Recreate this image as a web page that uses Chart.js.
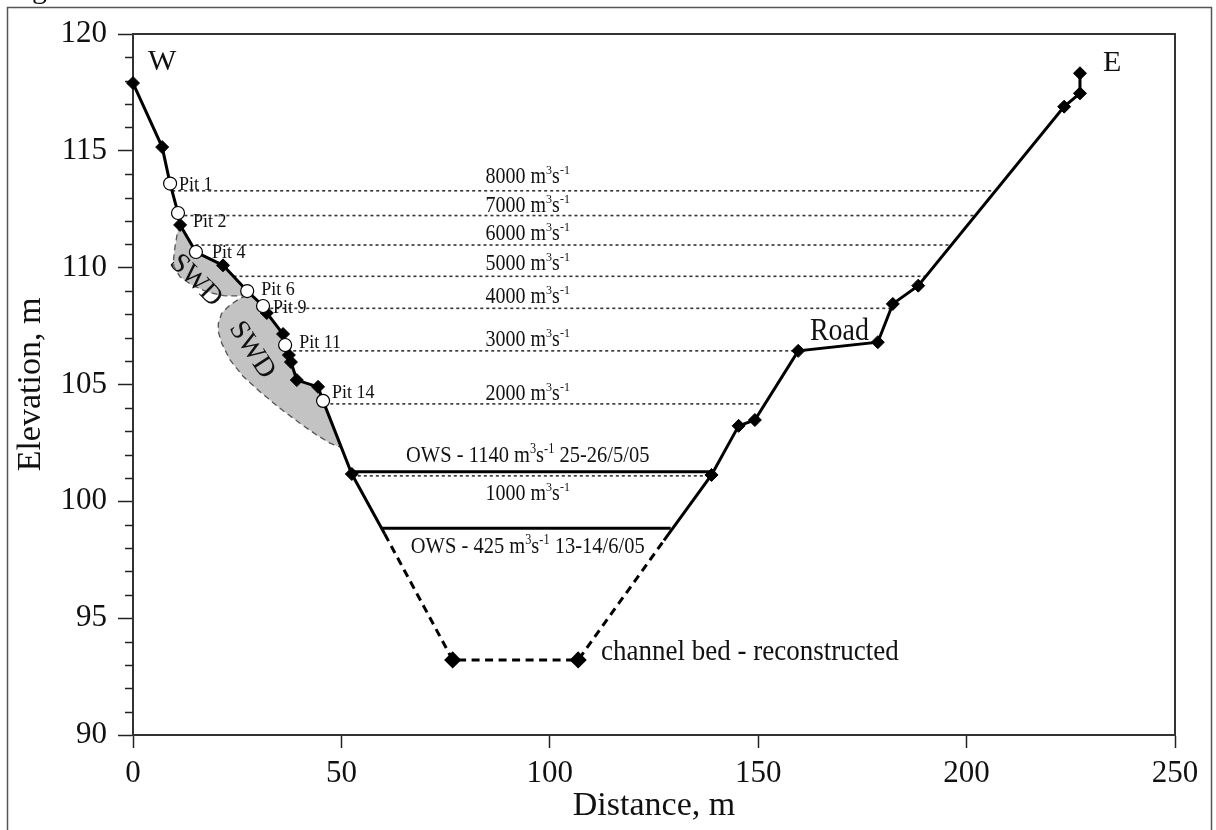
<!DOCTYPE html>
<html><head><meta charset="utf-8">
<script src="https://cdn.jsdelivr.net/npm/chart.js@4.4.1/dist/chart.umd.min.js"></script>
<style>html,body{margin:0;padding:0;background:#fff}#wrap{position:relative;width:1216px;height:830px}</style>
</head><body><div id="wrap"><canvas id="c" width="1216" height="830"></canvas></div>
<script>
// ---------------- data ----------------
const flowLabels = ['8000 m³s⁻¹','7000 m³s⁻¹','6000 m³s⁻¹','5000 m³s⁻¹','4000 m³s⁻¹','3000 m³s⁻¹','2000 m³s⁻¹','1000 m³s⁻¹'];
const flowElev   = [113.29, 112.23, 110.97, 109.63, 108.26, 106.44, 104.17, 101.09];
const flowXStart = [9.4, 10.9, 15.0, 24.1, 31.5, 37.0, 45.9, 52.5];
const flowXEnd   = [206.6, 202.0, 196.3, 190.0, 181.9, 159.6, 151.0, 138.6];

const owsLabels = ['OWS - 1140 m³s⁻¹ 25-26/5/05', 'OWS - 425 m³s⁻¹ 13-14/6/05'];
const owsElev   = [101.27, 98.85];
const owsXStart = [52.5, 59.6];
const owsXEnd   = [138.6, 129.0];

const surveyX = [0, 7.0, 11.3, 21.6, 32.1, 36.0, 37.4, 37.9, 39.3, 44.4, 52.5, 138.8, 145.3, 149.2, 159.6, 178.7, 182.3, 188.4, 223.4, 227.2, 227.2];
const surveyY = [117.9, 115.16, 111.83, 110.1, 108.06, 107.16, 106.26, 105.96, 105.19, 104.9, 101.17, 101.13, 103.23, 103.48, 106.44, 106.81, 108.45, 109.23, 116.89, 117.46, 118.32];

const pitNames = ['Pit 1', 'Pit 2', 'Pit 4', 'Pit 6', 'Pit 9', 'Pit 11', 'Pit 14'];
const pitX = [8.9, 10.8, 15.1, 27.4, 31.2, 36.5, 45.6];
const pitY = [113.6, 112.34, 110.67, 109.0, 108.36, 106.69, 104.3];

const bedX = [76.7, 106.8];
const bedY = [93.21, 93.21];
const junctionX = [60.4, 127.4];
const junctionY = [98.6, 98.33];

// SWD (slackwater deposit) outlines, dashed edge only; polygon is closed along the bank profile
const swdUpperX = [11.28, 10.63, 10.08, 9.67, 9.84, 11.28, 14.08, 17.68, 21.67, 24.06, 27.28];
const swdUpperY = [111.83, 111.47, 110.90, 110.26, 110.04, 109.61, 109.26, 108.97, 108.80, 108.79, 108.80];
const swdLowerX = [27.28, 25.67, 23.27, 21.28, 20.47, 20.47, 21.28, 23.27, 26.46, 30.47, 35.27, 40.07, 44.07, 47.26, 50.0];
const swdLowerY = [108.80, 108.69, 108.40, 108.05, 107.62, 107.26, 106.77, 106.05, 105.34, 104.69, 103.98, 103.34, 102.84, 102.49, 102.3];

const xTicks = [0, 50, 100, 150, 200, 250];
const yTicks = [90, 95, 100, 105, 110, 115, 120];

// ---------------- styles / annotation layout ----------------
const FAM = "'Liberation Serif', 'Times New Roman', serif";
const flowLabelX = 94.7;
const flowLabelDy = [-8, -4, -5, -6, -5, -4.5, -4, 24];
const owsLabelDy = [-10, 25];
const pitLabelOff = [[9, 6], [15, 14], [16, 6], [14, 4], [10, 7], [14, 3], [9, -3]];
const texts = [
  {t: 'W', x: 3.6, y: 118.46, size: 30, align: 'left'},
  {t: 'E', x: 232.7, y: 118.42, size: 30, align: 'left'},
  {t: 'Road', x: 162.4, y: 106.91, size: 28, align: 'left', sy: 1.1},
  {t: 'channel bed - reconstructed', x: 112.3, y: 93.21, size: 27, align: 'left', sy: 1.06},
  {t: 'SWD', x: 15.4, y: 109.5, size: 28, align: 'center', rot: 45, mid: true},
  {t: 'SWD', x: 28.9, y: 106.52, size: 28, align: 'center', rot: 57, mid: true}
];

// ---------------- build datasets ----------------
const pts = (xs, ys) => xs.map((x, i) => ({x, y: ys[i]}));
const leftBank = pts(surveyX, surveyY).filter(p => p.x <= 52.5)
  .concat(pts(pitX, pitY)).sort((a, b) => a.x - b.x)
  .concat([{x: junctionX[0], y: junctionY[0]}]);
const rightBank = [{x: junctionX[1], y: junctionY[1]}].concat(pts(surveyX, surveyY).filter(p => p.x >= 138.8));
const bedLine = [{x: junctionX[0], y: junctionY[0]}].concat(pts(bedX, bedY)).concat([{x: junctionX[1], y: junctionY[1]}]);
const profileOnly = pts(surveyX, surveyY).filter(p => p.x <= 52.5).concat(pts(pitX, pitY)).sort((a, b) => a.x - b.x);
function closePoly(edgeX, edgeY) {
  const e = pts(edgeX, edgeY);
  const x0 = edgeX[0], x1 = edgeX[edgeX.length - 1];
  const back = profileOnly.filter(p => p.x > Math.min(x0, x1) && p.x < Math.max(x0, x1) + 0.2).reverse();
  return e.concat(back);
}

const datasets = [];
datasets.push({label: 'Pits', data: pts(pitX, pitY), showLine: false, pointStyle: 'circle', pointRadius: 6.5,
  pointBackgroundColor: '#fff', pointBorderColor: '#000', pointBorderWidth: 1.2, order: 0, clip: false});
datasets.push({label: 'Survey', data: pts(surveyX, surveyY), showLine: false, pointStyle: 'rectRot', pointRadius: 6.5,
  pointBackgroundColor: '#000', pointBorderColor: '#000', pointBorderWidth: 1, order: 1, clip: false});
datasets.push({label: 'Left bank', data: leftBank, borderColor: '#000', borderWidth: 3, pointRadius: 0, order: 2, clip: false});
datasets.push({label: 'Right bank', data: rightBank, borderColor: '#000', borderWidth: 3, pointRadius: 0, order: 2, clip: false});
datasets.push({label: 'Bed', data: bedLine, borderColor: '#000', borderWidth: 3, borderDash: [8, 5.5],
  pointStyle: 'rectRot', pointRadius: [0, 6.5, 6.5, 0], pointBackgroundColor: '#000', pointBorderColor: '#000', order: 3, clip: false});
owsElev.forEach((e, i) => datasets.push({label: owsLabels[i], data: [{x: owsXStart[i], y: e}, {x: owsXEnd[i], y: e}],
  borderColor: '#000', borderWidth: 3, pointRadius: 0, order: 4}));
datasets.push({label: 'SWD upper', data: closePoly(swdUpperX, swdUpperY), borderColor: '#555', borderWidth: 1.3,
  borderDash: [6, 4], backgroundColor: '#c3c3c3', fill: 'shape', pointRadius: 0, order: 6});
datasets.push({label: 'SWD lower', data: closePoly(swdLowerX, swdLowerY), borderColor: '#555', borderWidth: 1.3,
  borderDash: [6, 4], backgroundColor: '#c3c3c3', fill: 'shape', pointRadius: 0, order: 6});
flowElev.forEach((e, i) => datasets.push({label: flowLabels[i], data: [{x: flowXStart[i], y: e}, {x: flowXEnd[i], y: e}],
  borderColor: '#333', borderWidth: 1.6, borderDash: [3, 3], pointRadius: 0, order: 7}));

// ---------------- text helper ----------------
function drawRich(ctx, str, x, y, size, align, sy, rot, mid) {
  const supMap = {'³': '3', '⁻': '-', '¹': '1', '²': '2'};
  const runs = [];
  for (const ch of str) {
    const sup = ch in supMap;
    const c = sup ? supMap[ch] : ch;
    if (runs.length && runs[runs.length - 1].sup === sup) runs[runs.length - 1].t += c;
    else runs.push({t: c, sup});
  }
  let total = 0;
  runs.forEach(r => { ctx.font = (r.sup ? size * 0.6 : size) + 'px ' + FAM; r.w = ctx.measureText(r.t).width; total += r.w; });
  ctx.save();
  ctx.translate(x, y);
  if (rot) ctx.rotate(rot * Math.PI / 180);
  ctx.scale(1, sy || 1);
  let cx = align === 'center' ? -total / 2 : (align === 'right' ? -total : 0);
  const by = mid ? size * 0.33 : 0;
  ctx.textAlign = 'left';
  ctx.textBaseline = 'alphabetic';
  ctx.fillStyle = '#111';
  runs.forEach(r => {
    ctx.font = (r.sup ? size * 0.6 : size) + 'px ' + FAM;
    ctx.fillText(r.t, cx, by + (r.sup ? -size * 0.4 : 0));
    cx += r.w;
  });
  ctx.restore();
}

const framePlugin = {
  id: 'frame',
  beforeDatasetsDraw(chart) {
    const {ctx, chartArea: a, scales: {y}} = chart;
    ctx.save();
    ctx.strokeStyle = '#333';
    ctx.lineWidth = 2;
    ctx.strokeRect(a.left, a.top, a.right - a.left, a.bottom - a.top);
    // minor ticks on the elevation axis
    ctx.lineWidth = 1.5;
    ctx.strokeStyle = '#222';
    for (let v = y.min; v <= y.max; v++) {
      if (v % 5 === 0) continue;
      const py = Math.round(y.getPixelForValue(v)) + 0.5;
      ctx.beginPath(); ctx.moveTo(a.left - 8, py); ctx.lineTo(a.left, py); ctx.stroke();
    }
    ctx.restore();
  },
  afterDatasetsDraw(chart) {
    const {ctx, scales: {x, y}} = chart;
    flowLabels.forEach((t, i) => drawRich(ctx, t, x.getPixelForValue(flowLabelX), y.getPixelForValue(flowElev[i]) + flowLabelDy[i], 20, 'center', 1.12));
    owsLabels.forEach((t, i) => drawRich(ctx, t, x.getPixelForValue(flowLabelX), y.getPixelForValue(owsElev[i]) + owsLabelDy[i], 20.5, 'center', 1.1));
    pitNames.forEach((t, i) => drawRich(ctx, t, x.getPixelForValue(pitX[i]) + pitLabelOff[i][0], y.getPixelForValue(pitY[i]) + pitLabelOff[i][1], 18, 'left', 1.08));
    texts.forEach(o => drawRich(ctx, o.t, x.getPixelForValue(o.x), y.getPixelForValue(o.y), o.size, o.align, o.sy, o.rot, o.mid));
  },
  afterDraw(chart) {
    const ctx = chart.ctx;
    ctx.save();
    ctx.strokeStyle = '#555';
    ctx.lineWidth = 1.5;
    ctx.strokeRect(7.5, 7.5, 1204, 840);
    ctx.fillStyle = '#111';
    ctx.font = '30px ' + FAM;
    ctx.textBaseline = 'alphabetic';
    ctx.fillText('Figure', 7, -2);
    ctx.restore();
  }
};

Chart.defaults.font.family = FAM;
Chart.defaults.color = '#111';

new Chart(document.getElementById('c'), {
  type: 'line',
  data: {datasets},
  options: {
    responsive: false,
    animation: false,
    events: [],
    layout: {padding: {top: 34, right: 41, left: 0, bottom: 0}},
    plugins: {legend: {display: false}, tooltip: {enabled: false}},
    scales: {
      x: {
        type: 'linear', min: 0, max: 250,
        afterBuildTicks: s => { s.ticks = xTicks.map(v => ({value: v})); },
        afterFit: s => { s.height = 95; },
        ticks: {font: {size: 31}, color: '#111', padding: 7, maxRotation: 0},
        grid: {drawOnChartArea: false, tickLength: 13, tickColor: '#222', tickWidth: 1.5},
        border: {color: '#333', width: 2},
        title: {display: true, text: 'Distance, m', font: {size: 34}, color: '#111', padding: {top: 0, bottom: 4}}
      },
      y: {
        type: 'linear', min: 90, max: 120,
        afterBuildTicks: s => { s.ticks = yTicks.map(v => ({value: v})); },
        afterFit: s => { s.width = 133; },
        ticks: {font: {size: 31}, color: '#111', padding: 11},
        grid: {drawOnChartArea: false, tickLength: 15, tickColor: '#222', tickWidth: 1.5},
        border: {color: '#333', width: 2},
        title: {display: true, text: 'Elevation, m', font: {size: 34}, color: '#111', padding: {top: 11, bottom: 0}}
      }
    }
  },
  plugins: [framePlugin]
});
</script>
</body></html>
